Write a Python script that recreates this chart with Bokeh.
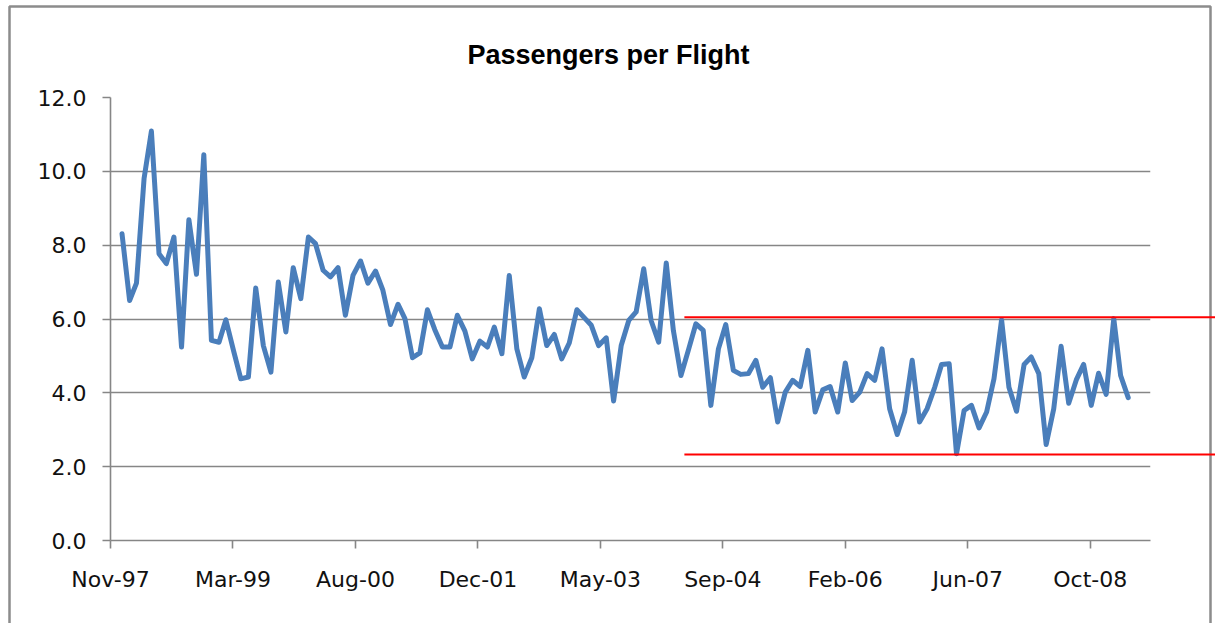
import pandas as pd
from bokeh.plotting import figure
from bokeh.models import FixedTicker, NumeralTickFormatter, Range1d, ColumnDataSource
from bokeh.core.properties import value
from bokeh.embed import file_html
from bokeh.resources import INLINE

# ---- data ----
first_month = "1998-01-01"
passengers_per_flight = [
    8.31, 6.50, 6.97, 9.80, 11.09, 7.77, 7.50, 8.22, 5.24, 8.69, 7.21, 10.45,
    5.42, 5.37, 5.98, 5.15, 4.38, 4.43, 6.84, 5.28, 4.56, 7.00, 5.65, 7.39,
    6.55, 8.22, 8.04, 7.32, 7.14, 7.39, 6.10, 7.18, 7.57, 6.97, 7.30, 6.78,
    5.85, 6.40, 6.01, 4.95, 5.08, 6.25, 5.71, 5.24, 5.24, 6.10, 5.67, 4.92,
    5.40, 5.24, 5.78, 5.06, 7.18, 5.19, 4.43, 4.95, 6.28, 5.28, 5.58, 4.92,
    5.35, 6.25, 6.05, 5.83, 5.28, 5.49, 3.78, 5.28, 5.96, 6.19, 7.36, 5.96,
    5.37, 7.52, 5.69, 4.47, 5.15, 5.87, 5.69, 3.66, 5.19, 5.85, 4.61, 4.50,
    4.52, 4.88, 4.15, 4.41, 3.21, 4.02, 4.34, 4.17, 5.15, 3.48, 4.08, 4.17,
    3.48, 4.81, 3.79, 4.02, 4.52, 4.34, 5.19, 3.57, 2.87, 3.48, 4.88, 3.21,
    3.57, 4.15, 4.77, 4.79, 2.35, 3.52, 3.66, 3.05, 3.48, 4.38, 5.98, 4.15,
    3.50, 4.77, 4.97, 4.52, 2.60, 3.57, 5.26, 3.72, 4.35, 4.77, 3.66, 4.53,
    3.96, 6.01, 4.47, 3.87,
]
tick_dates = ["1997-11-15", "1999-03-30", "2000-08-11", "2001-12-24", "2003-05-08",
              "2004-09-19", "2006-02-01", "2007-06-16", "2008-10-28"]
tick_labels = ["Nov-97", "Mar-99", "Aug-00", "Dec-01", "May-03",
               "Sep-04", "Feb-06", "Jun-07", "Oct-08"]
x_start, x_end = "1997-11-15", "2009-07-01"
y_ticks = [0, 2, 4, 6, 8, 10, 12]
upper_limit = 6.05
lower_limit = 2.33
limit_start = "2004-04-15"
limit_end = "2010-06-01"
title_text = "Passengers per Flight"

# ---- layout (pixels) ----
W, H = 1215, 623
ML, MR, MT, MB = 110, 65, 97, 83

dates = pd.date_range(first_month, periods=len(passengers_per_flight), freq="MS")
src = ColumnDataSource(dict(x=dates, y=passengers_per_flight))

def ms(d):
    return float(pd.Timestamp(d).value // 10**6)

X0, X1 = ms(x_start), ms(x_end)
Y0, Y1 = 0.0, 12.0
FW, FH = W - ML - MR, H - MT - MB

def px_x(px):   # canvas pixel -> x data (for decoration only)
    return X0 + (px - ML) * (X1 - X0) / FW

def px_y(py):   # canvas pixel -> y data (for decoration only)
    return Y1 - (py - MT) * (Y1 - Y0) / FH

p = figure(width=W, height=H, x_axis_type="datetime",
           output_backend="svg", toolbar_location=None,
           x_range=Range1d(X0, X1), y_range=Range1d(Y0, Y1),
           min_border_left=ML, min_border_right=MR,
           min_border_top=MT, min_border_bottom=MB)

p.outline_line_color = None
p.background_fill_color = "white"
p.border_fill_color = "white"

grey = "#868686"
p.xgrid.visible = False
p.ygrid.grid_line_color = grey
p.ygrid.grid_line_width = 1.6
p.ygrid.ticker = FixedTicker(ticks=y_ticks)

p.yaxis.ticker = FixedTicker(ticks=y_ticks)
p.yaxis.formatter = NumeralTickFormatter(format="0.0")
p.xaxis.ticker = FixedTicker(ticks=[ms(d) for d in tick_dates])
p.xaxis.major_label_overrides = {ms(d): lab for d, lab in zip(tick_dates, tick_labels)}

for ax in (p.xaxis, p.yaxis):
    ax.axis_line_color = grey
    ax.axis_line_width = 1.6
    ax.major_tick_line_color = grey
    ax.major_tick_line_width = 1.6
    ax.major_tick_out = 8
    ax.major_tick_in = 0
    ax.minor_tick_line_color = None
    ax.major_label_text_font = "DejaVu Sans"
    ax.major_label_text_font_size = "22px"
    ax.major_label_text_color = "#111111"
p.yaxis.major_label_standoff = 16
p.xaxis.major_label_standoff = 18

# outer chart border (decoration, drawn unclipped)
p.multi_line(xs=[[px_x(9), px_x(9), px_x(1210), px_x(1210)]],
             ys=[[px_y(640), px_y(6), px_y(6), px_y(640)]],
             line_color="#8c8c8c", line_width=2.5, level="overlay")

# chart title, centred on the whole chart (drawn unclipped)
p.text(x=[px_x(608)], y=[px_y(54)], text=[title_text],
       text_align="center", text_baseline="alphabetic",
       text_font=value("Liberation Sans"), text_font_style="bold",
       text_font_size="27px", text_color="#000000", level="overlay")

p.line("x", "y", source=src, line_color="#4A7EBB", line_width=5,
       line_join="round", line_cap="round")

p.segment(x0=[ms(limit_start)] * 2, y0=[upper_limit, lower_limit],
          x1=[ms(limit_end)] * 2, y1=[upper_limit, lower_limit],
          line_color="#FF0000", line_width=2, level="overlay")

open("out.html", "w").write(file_html(p, INLINE))
